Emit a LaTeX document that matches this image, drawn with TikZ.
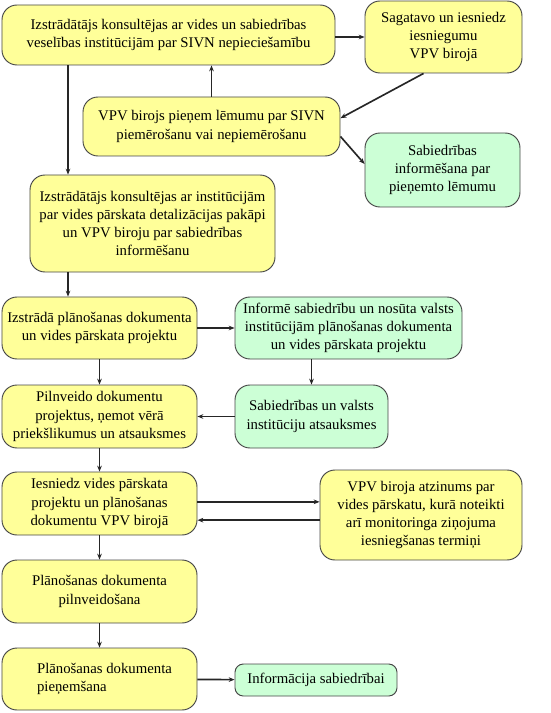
\documentclass[tikz,border=0pt]{standalone}
\usepackage{fontspec}
\setmainfont{Liberation Serif}
\usetikzlibrary{arrows.meta}
\definecolor{boxyellow}{RGB}{255,255,153}
\definecolor{boxgreen}{RGB}{204,255,214}
\definecolor{boxline}{RGB}{70,70,70}

\begin{document}
\begin{tikzpicture}[
			x=0.03cm, y=-0.03cm,
			box/.style={draw=boxline, line width=0.8pt, rounded corners=0.45cm, align=center, inner sep=2pt, font=\fontsize{12.6}{15.6}\selectfont},
			yellowbox/.style={box, fill=boxyellow},
			greenbox/.style={box, fill=boxgreen},
			arrow/.style={-{Stealth[length=5pt,width=4pt]}, line width=1.4pt, draw=black!85}
		]
		\useasboundingbox (0,0) rectangle (550,713);

		\node[yellowbox, minimum width=9.99cm, minimum height=1.8cm] (konsult) at (168.5,35) {Izstrādātājs konsultējas ar vides un sabiedrības\\veselības institūcijām par SIVN nepieciešamību};
		\node[yellowbox, minimum width=4.71cm, minimum height=2.16cm] (sagatavo) at (443.5,37) {Sagatavo un iesniedz\\iesniegumu\\VPV birojā};
		\node[yellowbox, minimum width=7.71cm, minimum height=1.77cm] (lemums) at (211.5,126.5) {VPV birojs pieņem lēmumu par SIVN\\piemērošanu vai nepiemērošanu};
		\node[greenbox, minimum width=4.65cm, minimum height=2.22cm] (inform) at (442.5,170) {Sabiedrības\\informēšana par\\pieņemto lēmumu};
		\node[yellowbox, minimum width=7.35cm, minimum height=2.91cm] (detal) at (152.5,223.5) {Izstrādātājs konsultējas ar institūcijām\\par vides pārskata detalizācijas pakāpi\\un VPV biroju par sabiedrības\\informēšanu};
		\node[yellowbox, minimum width=5.85cm, minimum height=1.86cm] (izstrada) at (99.5,328) {Izstrādā plānošanas dokumenta\\un vides pārskata projektu};
		\node[greenbox, minimum width=6.81cm, minimum height=1.86cm] (nosuta) at (348.5,328) {Informē sabiedrību un nosūta valsts\\institūcijām plānošanas dokumenta\\un vides pārskata projektu};
		\node[yellowbox, minimum width=5.85cm, minimum height=1.89cm] (pilnveido) at (99.5,416.5) {Pilnveido dokumentu\\projektus, ņemot vērā\\priekšlikumus un atsauksmes};
		\node[greenbox, minimum width=4.59cm, minimum height=1.89cm] (atsauksmes) at (311.5,416.5) {Sabiedrības un valsts\\institūciju atsauksmes};
		\node[yellowbox, minimum width=5.85cm, minimum height=1.89cm] (iesniedz) at (99.5,503.5) {Iesniedz vides pārskata\\projektu un plānošanas\\dokumentu VPV birojā};
		\node[yellowbox, minimum width=6.06cm, minimum height=2.7cm] (atzinums) at (421,515) {VPV biroja atzinums par\\vides pārskatu, kurā noteikti\\arī monitoringa ziņojuma\\iesniegšanas termiņi};
		\node[yellowbox, minimum width=5.85cm, minimum height=1.89cm] (pilnveidosana) at (99.5,591.5) {Plānošanas dokumenta\\pilnveidošana};
		\node[yellowbox, minimum width=5.85cm, minimum height=1.86cm, align=left] (pienemsana) at (99.5,679) {\hspace*{0.3cm}Plānošanas dokumenta\\\hspace*{0.3cm}pieņemšana};
		\node[greenbox, minimum width=4.86cm, minimum height=0.96cm, rounded corners=0.25cm] (info) at (316,680) {Informācija sabiedrībai};

		\coordinate (left) at (68,0);
		\draw[arrow] (konsult.east |- sagatavo.west) -- (sagatavo.west);
		\draw[arrow] (konsult.south -| left) -- (detal.north -| left);
		\draw[arrow] (lemums.north) -- (lemums.north |- konsult.south);
		\draw[arrow] ([xshift=-0.6cm]sagatavo.south) -- ([yshift=0.25cm]lemums.east);
		\draw[arrow] ([yshift=-0.3cm]lemums.east) -- ([yshift=0.18cm]inform.west);
		\draw[arrow] (detal.south -| left) -- (izstrada.north -| left);
		\draw[arrow] (izstrada) -- (nosuta);
		\draw[arrow] (izstrada) -- (pilnveido);
		\draw[arrow] (atsauksmes.north |- nosuta.south) -- (atsauksmes.north);
		\draw[arrow] (atsauksmes) -- (pilnveido);
		\draw[arrow] (pilnveido) -- (iesniedz);
		\draw[arrow] ([yshift=0.05cm]iesniedz.east) -- ([yshift=0.05cm]iesniedz.east -| atzinums.west);
		\draw[arrow] ([yshift=-0.5cm]iesniedz.east -| atzinums.west) -- ([yshift=-0.5cm]iesniedz.east);
		\draw[arrow] (iesniedz) -- (pilnveidosana);
		\draw[arrow] (pilnveidosana) -- (pienemsana);
		\draw[arrow] (pienemsana) -- (info);
	\end{tikzpicture}
\end{document}
